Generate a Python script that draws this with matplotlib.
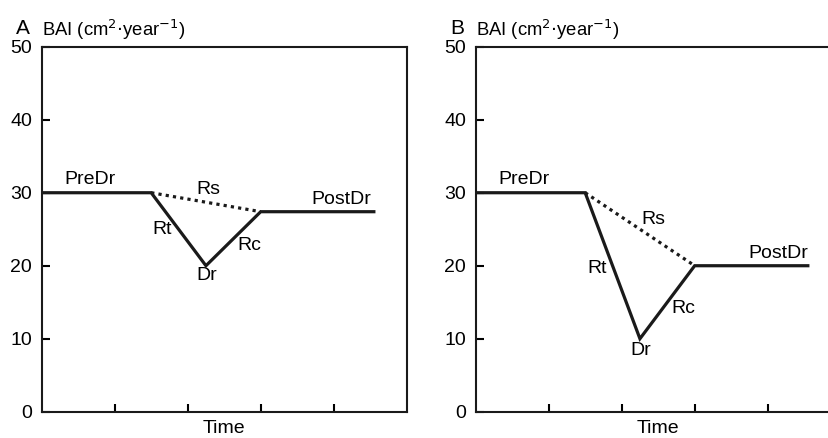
import matplotlib as mpl
mpl.use('Agg')
from matplotlib import pyplot as plt

plt.rcParams['font.family'] = ['Liberation Sans', 'DejaVu Sans']

# time axis (arbitrary units) and BAI values for the two scenarios
time_pts = [0, 1.5, 2.25, 3.0, 4.55]
bai_a = [30, 30, 20, 27.4, 27.4]
bai_b = [30, 30, 10, 20, 20]

# labels: (text, x, y)
labels_a = [('PreDr', 0.66, 31.8), ('Rs', 2.28, 30.4), ('PostDr', 4.1, 29.1),
            ('Rt', 1.65, 24.9), ('Rc', 2.85, 22.8), ('Dr', 2.26, 18.6)]
labels_b = [('PreDr', 0.66, 31.8), ('Rs', 2.43, 26.3), ('PostDr', 4.15, 21.7),
            ('Rt', 1.66, 19.6), ('Rc', 2.84, 14.2), ('Dr', 2.26, 8.4)]

fs = 14
fig = plt.figure(figsize=(8.29, 4.38), dpi=100)

def panel(rect, bai, labels, letter):
    ax = fig.add_axes(rect)
    # solid path: PreDr -> Dr -> PostDr
    ax.plot(time_pts, bai, color='#1a1a1a', lw=2.3, solid_joinstyle='miter')
    # dotted Rs line between drought onset and recovery
    ax.plot([time_pts[1], time_pts[3]], [bai[1], bai[3]], color='#1a1a1a',
            lw=2.3, linestyle=(0, (1, 1.3)), dash_capstyle='butt')
    for txt, x, y in labels:
        ax.text(x, y, txt, fontsize=fs, ha='center', va='center')
    ax.set_xlim(0, 5)
    ax.set_ylim(0, 50)
    ax.set_xticks([1, 2, 3, 4])
    ax.set_xticklabels([])
    ax.set_yticks([0, 10, 20, 30, 40, 50])
    ax.tick_params(direction='in', length=6, width=1.5, labelsize=fs, pad=7)
    for s in ax.spines.values():
        s.set_linewidth(1.5)
        s.set_color('#1a1a1a')
    ax.set_xlabel('Time', fontsize=fs, labelpad=-1)
    ax.text(0.0, 1.045, r'BAI (cm$^{2}$$\cdot$year$^{-1}$)', transform=ax.transAxes,
            fontsize=13.3, ha='left', va='center')
    ax.text(-0.07, 1.05, letter, transform=ax.transAxes, fontsize=15,
            ha='left', va='center')
    return ax

panel([0.0503, 0.060, 0.4403, 0.8333], bai_a, labels_a, 'A')
panel([0.5738, 0.060, 0.4403, 0.8333], bai_b, labels_b, 'B')

plt.savefig('out.png', dpi=100)
